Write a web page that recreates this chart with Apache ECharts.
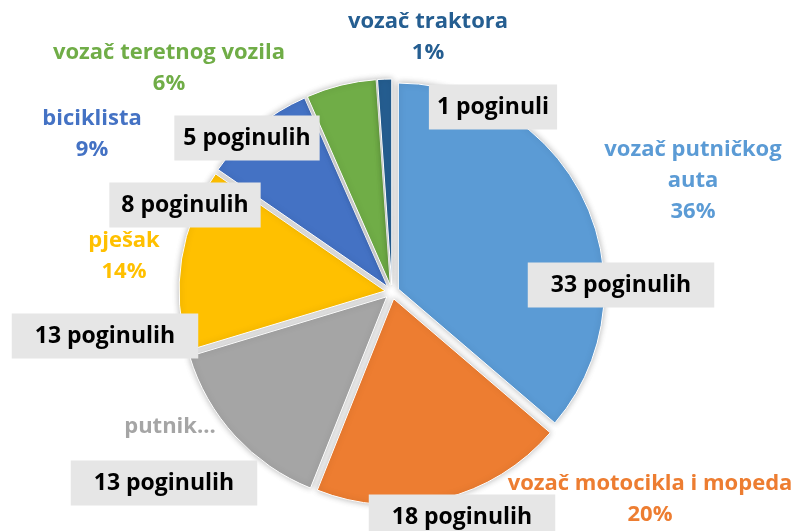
<!DOCTYPE html>
<html>
<head>
<meta charset="utf-8">
<script src="https://cdn.jsdelivr.net/npm/echarts@6/dist/echarts.min.js"></script>
<style>
	html, body { margin: 0; padding: 0; background: #fff; }
	#main { width: 799px; height: 531px; }
</style>
</head>
<body>
<div id="main"></div>
<script>
// podaci
var categories = ['vozač putničkog auta', 'vozač motocikla i mopeda', 'putnik...', 'pješak', 'biciklista', 'vozač teretnog vozila', 'vozač traktora'];
var deaths = [33, 18, 13, 13, 8, 5, 1];
var colors = ['#5b9bd5', '#ed7d31', '#a5a5a5', '#ffc000', '#4472c4', '#70ad47', '#255e91'];

// pozicije oznaka (kao u Excelu)
var valuePos = [[621, 285], [462, 517], [164, 483], [105, 336], [185, 205], [247, 138], [493, 107]];
var valuePad = [23, 23, 23, 23, 12, 9, 8];
var namePos = [[693, 181], [650, 499], [170, 427], [124, 256], [92, 134], [169, 68], [428, 37]];

var chart = echarts.init(document.getElementById('main'));
var font = '"Open Sans", "DejaVu Sans", sans-serif';
var pieCenter = [ 392, 292 ];
var pieRadius = [ 0, 206 ];

var sliceData = categories.map(function(name, i) {
	return {
		name : name,
		value : deaths[i],
		selected : true,
		itemStyle : { color : colors[i] }
	};
});

var valueData = categories.map(function(name, i) {
	return {
		name : name,
		value : deaths[i],
		label : {
			padding : [ 8, valuePad[i], 7, valuePad[i] ]
		}
	};
});

var nameData = categories.map(function(name, i) {
	var item = {
		name : name,
		value : deaths[i],
		label : { color : colors[i] }
	};
	if (i === 0) {
		// Excel lomi dugi naziv u dva reda
		item.label.formatter = name.replace(/ (\S+)$/, '\n$1') + '\n{d}%';
	}
	if (name === 'putnik...') {
		item.label.formatter = '{b}';
	}
	return item;
});

function placeAt(list) {
	return function(p) {
		var pos = list[p.dataIndex];
		return { x : pos[0], y : pos[1], align : 'center', verticalAlign : 'middle' };
	};
}

var option = {
	animation : false,
	backgroundColor : '#fff',
	series : [ {
		name : 'kriske',
		type : 'pie',
		z : 1,
		center : pieCenter,
		radius : pieRadius,
		startAngle : 90,
		selectedMode : 'multiple',
		selectedOffset : 7,
		silent : true,
		itemStyle : {
			borderColor : '#fff',
			borderWidth : 1,
			shadowBlur : 6,
			shadowColor : 'rgba(0,0,0,0.28)'
		},
		select : {
			itemStyle : { borderColor : '#fff', borderWidth : 1 }
		},
		label : { show : false },
		labelLine : { show : false },
		data : sliceData
	}, {
		name : 'poginuli',
		type : 'pie',
		z : 5,
		center : pieCenter,
		radius : pieRadius,
		startAngle : 90,
		silent : true,
		itemStyle : { color : 'rgba(0,0,0,0)' },
		label : {
			show : true,
			position : 'inside',
			fontFamily : font,
			fontWeight : 'bold',
			fontSize : 23,
			lineHeight : 30,
			color : '#000',
			backgroundColor : '#e6e6e6',
			formatter : function(p) {
				return p.value + (p.value === 1 ? ' poginuli' : ' poginulih');
			}
		},
		labelLine : { show : false },
		labelLayout : placeAt(valuePos),
		data : valueData
	}, {
		name : 'kategorije',
		type : 'pie',
		z : 5,
		center : pieCenter,
		radius : pieRadius,
		startAngle : 90,
		percentPrecision : 0,
		silent : true,
		itemStyle : { color : 'rgba(0,0,0,0)' },
		label : {
			show : true,
			position : 'inside',
			fontFamily : font,
			fontWeight : 'bold',
			fontSize : 22,
			lineHeight : 31,
			align : 'center',
			formatter : '{b}\n{d}%'
		},
		labelLine : { show : false },
		labelLayout : placeAt(namePos),
		data : nameData
	} ]
};

chart.setOption(option);
</script>
</body>
</html>
